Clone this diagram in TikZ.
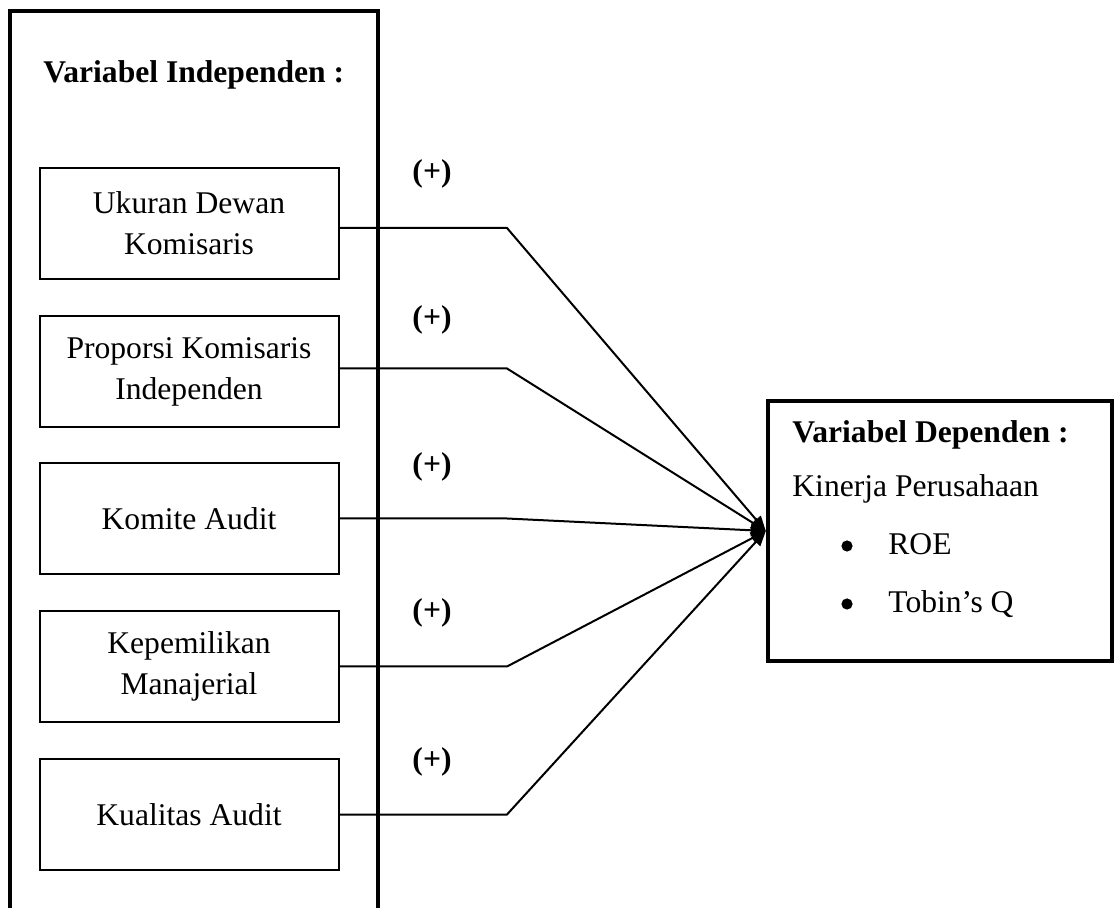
\documentclass[tikz,border=0pt]{standalone}
\usepackage{fontspec}
\setmainfont{Liberation Serif}
\usetikzlibrary{arrows.meta}
\begin{document}
\begin{tikzpicture}[x=0.5pt,y=-0.5pt,
  txt/.style={font=\fontsize{15.8}{20.5}\selectfont},
  varbox/.style={draw, line width=1pt, minimum width=149.5pt, minimum height=55.5pt, align=center, inner sep=0pt, txt},
  thickb/.style={draw, line width=2.2pt, inner sep=0pt},
  conn/.style={line width=1pt, -{Triangle[length=7.5pt,width=6pt]}},
  plus/.style={font=\fontsize{15.8}{20.5}\selectfont\bfseries, inner sep=0pt},
  lbl/.style={txt, inner sep=0pt, anchor=base west},
  bulletdot/.style={circle, fill, inner sep=0pt, minimum size=5.6pt},
]
\useasboundingbox (0,0) rectangle (1114,908);
\clip (0,0) rectangle (1114,908);
% outer independent box (bottom runs off the page)
\node[thickb, minimum width=184pt, minimum height=469.5pt] (indep) at (194,480.5) {};
\node[lbl, font=\fontsize{15.8}{20.5}\selectfont\bfseries] (indeptitle) at (43,83) {Variabel Independen :};
% variable boxes
\node[varbox] (b1) at (189,223.5) {Ukuran Dewan\\Komisaris};
\node[varbox] (b2) at (189,371.5) {Proporsi Komisaris\\Independen};
\node[varbox] (b3) at (189,518.5) {Komite Audit};
\node[varbox] (b4) at (189,666.5) {Kepemilikan\\Manajerial};
\node[varbox] (b5) at (189,814.5) {Kualitas Audit};
% dependent box
\node[thickb, minimum width=172pt, minimum height=130pt] (dep) at (940,531) {};
\node[lbl, font=\fontsize{15.8}{20.5}\selectfont\bfseries] (deptitle) at (792,443) {Variabel Dependen :};
\node[lbl] (kin) at (792,497) {Kinerja Perusahaan};
\node[bulletdot] (bul1) at (847,546) {};
\node[lbl] (roe) at (888,555) {ROE};
\node[bulletdot] (bul2) at (847,604) {};
\node[lbl] (tq) at (888,613) {Tobin’s Q};
% plus labels
\node[plus] (p1) at (432,174) {(+)};
\node[plus] (p2) at (432,320) {(+)};
\node[plus] (p3) at (432,467) {(+)};
\node[plus] (p4) at (432,613) {(+)};
\node[plus] (p5) at (432,762) {(+)};
% connectors
\coordinate (bx) at (507,0);
\coordinate (e1) at ([yshift=-2.25pt]b1.east);
\coordinate (e2) at ([yshift=1.5pt]b2.east);
\draw[conn] (e1) -- (e1 -| bx) -- (dep.west);
\draw[conn] (e2) -- (e2 -| bx) -- (dep.west);
\foreach \b in {b3,b4,b5}{
  \draw[conn] (\b.east) -- (\b.east -| bx) -- (dep.west);
}
\end{tikzpicture}
\end{document}
